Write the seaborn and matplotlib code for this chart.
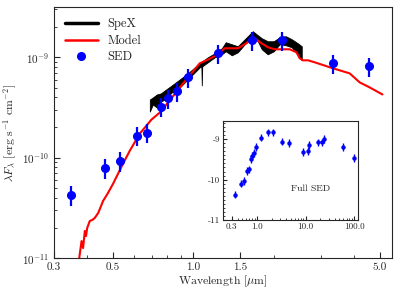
import matplotlib
matplotlib.use("Agg")
import matplotlib.pyplot as plt
import matplotlib.ticker as mticker
from matplotlib.lines import Line2D
import numpy as np
import pandas as pd
import seaborn as sns

# Model spectrum (wavelength in micron, log10 of lambda*F_lambda)
model_wave = [0.373, 0.381, 0.386, 0.392, 0.396, 0.400, 0.409, 0.418, 0.427, 0.440,
              0.459, 0.479, 0.500, 0.522, 0.545, 0.578, 0.630, 0.697, 0.749, 0.816,
              0.890, 0.970, 1.057, 1.120, 1.221, 1.312, 1.390, 1.472, 1.580, 1.675,
              1.801, 1.906, 2.020, 2.140, 2.299, 2.436, 2.506, 2.578, 2.692, 2.853,
              3.342, 3.858, 4.206, 4.585, 5.117]
model_logf = [-11.01, -10.83, -10.90, -10.73, -10.78, -10.70, -10.63, -10.62, -10.60, -10.55,
              -10.43, -10.35, -10.26, -10.16, -10.06, -9.93, -9.76, -9.62, -9.55, -9.43,
              -9.30, -9.18, -9.06, -9.03, -8.98, -8.91, -8.91, -8.91, -8.86, -8.80,
              -8.86, -8.90, -8.92, -8.92, -8.92, -8.95, -9.01, -9.03, -9.03, -9.05,
              -9.11, -9.16, -9.25, -9.30, -9.37]

# SpeX spectrum envelope (upper / lower edge of the noisy band)
spex_wave = [0.687, 0.705, 0.730, 0.755, 0.782, 0.830, 0.890, 0.953, 1.013, 1.057,
             1.072, 1.076, 1.080, 1.133, 1.203, 1.279, 1.323, 1.394, 1.468, 1.559,
             1.671, 1.745, 1.806, 1.901, 2.003, 2.109, 2.222, 2.339, 2.464, 2.550]
spex_hi = [-9.42, -9.40, -9.37, -9.36, -9.33, -9.28, -9.22, -9.16, -9.10, -9.06,
           -9.05, -9.05, -9.04, -9.00, -8.96, -8.91, -8.85, -8.87, -8.89, -8.82,
           -8.74, -8.78, -8.81, -8.84, -8.84, -8.80, -8.79, -8.82, -8.86, -8.89]
spex_lo = [-9.54, -9.47, -9.50, -9.44, -9.42, -9.35, -9.30, -9.22, -9.15, -9.10,
           -9.09, -9.28, -9.09, -9.05, -9.00, -8.97, -8.94, -8.98, -8.95, -8.87,
           -8.80, -8.84, -8.92, -8.97, -8.94, -8.87, -8.88, -8.90, -8.97, -9.03]

# SED photometry (log10 of lambda*F_lambda)
sed_wave = [0.348, 0.465, 0.530, 0.617, 0.670, 0.757, 0.805, 0.870, 0.957, 1.235,
            1.665, 2.150, 3.330, 4.560, 8.95, 11.3, 11.9, 18.2, 21.7, 24.6, 59.4, 98.4]
sed_logf = [-10.37, -10.10, -10.03, -9.78, -9.75, -9.49, -9.41, -9.34, -9.20, -8.96,
            -8.83, -8.83, -9.06, -9.09, -9.32, -9.29, -9.14, -9.08, -9.08, -9.00,
            -9.20, -9.47]
sed_err_frac = 0.22

main_xticks = [0.3, 0.5, 1.0, 1.5, 5.0]
inset_xticks = [0.3, 1.0, 10.0, 100.0]
inset_yticks = [-11, -10, -9]

sns.set_style("ticks")
plt.rcParams.update({
    "font.family": "serif",
    "font.serif": ["cmr10"],
    "mathtext.fontset": "cm",
    "axes.formatter.use_mathtext": True,
    "axes.unicode_minus": False,
    "xtick.direction": "in",
    "ytick.direction": "in",
})

model = pd.DataFrame({"wave": model_wave, "flux": 10.0 ** np.array(model_logf)})
spex_up = 10.0 ** np.array(spex_hi)
spex_dn = 10.0 ** np.array(spex_lo)
sed_flux = 10.0 ** np.array(sed_logf)

fig = plt.figure(figsize=(3.99, 2.96), dpi=100)
ax = fig.add_axes([0.135, 0.128, 0.847, 0.848])

ax.fill_between(spex_wave, spex_dn, spex_up, color="black", lw=0.6, zorder=2)
sns.lineplot(data=model, x="wave", y="flux", color="red", lw=1.5, sort=False,
             estimator=None, ax=ax, zorder=3)
ax.errorbar(sed_wave, sed_flux, yerr=sed_err_frac * sed_flux, fmt="o", color="blue",
            ms=5.5, elinewidth=1.6, capsize=0, zorder=4)

ax.set_xscale("log")
ax.set_yscale("log")
ax.set_xlim(0.3, 5.55)
ax.set_ylim(1e-11, 10 ** -8.5)
ax.xaxis.set_major_locator(mticker.FixedLocator(main_xticks))
ax.xaxis.set_major_formatter(mticker.FixedFormatter([f"{t:.1f}" for t in main_xticks]))
ax.xaxis.set_minor_locator(mticker.LogLocator(subs=np.arange(2, 10)))
ax.xaxis.set_minor_formatter(mticker.NullFormatter())
ax.yaxis.set_minor_formatter(mticker.NullFormatter())
ax.tick_params(labelsize=8)
ax.tick_params(which="major", length=4)
ax.tick_params(which="minor", length=2)
ax.set_xlabel(r"Wavelength [$\mu$m]", fontsize=8.5, labelpad=1)
ax.set_ylabel(r"$\lambda F_\lambda$ [erg s$^{-1}$ cm$^{-2}$]", fontsize=8.5, labelpad=2)

handles = [Line2D([], [], color="black", lw=2.5),
           Line2D([], [], color="red", lw=1.8),
           Line2D([], [], color="blue", marker="o", ms=5.5, ls="none")]
ax.legend(handles, ["SpeX", "Model", "SED"], loc="upper left", frameon=False,
          fontsize=9, handlelength=2.6, borderaxespad=0.5, labelspacing=0.35)

# inset with the full SED
ins = fig.add_axes([0.559, 0.257, 0.338, 0.334])
sed_lerr = sed_err_frac / np.log(10)
ins.errorbar(sed_wave, sed_logf, yerr=sed_lerr, fmt="o", color="blue", ms=2.2,
             elinewidth=1.0, capsize=0)
ins.set_xscale("log")
ins.set_xlim(0.2, 120)
ins.set_ylim(-11, -8.55)
ins.xaxis.set_major_locator(mticker.FixedLocator(inset_xticks))
ins.xaxis.set_major_formatter(mticker.FixedFormatter([f"{t:.1f}" for t in inset_xticks]))
ins.xaxis.set_minor_locator(mticker.LogLocator(subs=np.arange(2, 10)))
ins.xaxis.set_minor_formatter(mticker.NullFormatter())
ins.yaxis.set_major_locator(mticker.FixedLocator(inset_yticks))
ins.yaxis.set_major_formatter(mticker.FixedFormatter([str(t) for t in inset_yticks]))
ins.yaxis.set_minor_locator(mticker.MultipleLocator(0.1))
ins.tick_params(labelsize=6.5, pad=2)
ins.tick_params(which="major", length=3)
ins.tick_params(which="minor", length=1.5)
ins.text(0.65, 0.31, "Full SED", transform=ins.transAxes, ha="center", va="center",
         fontsize=7)

fig.savefig("out.png", dpi=100)
